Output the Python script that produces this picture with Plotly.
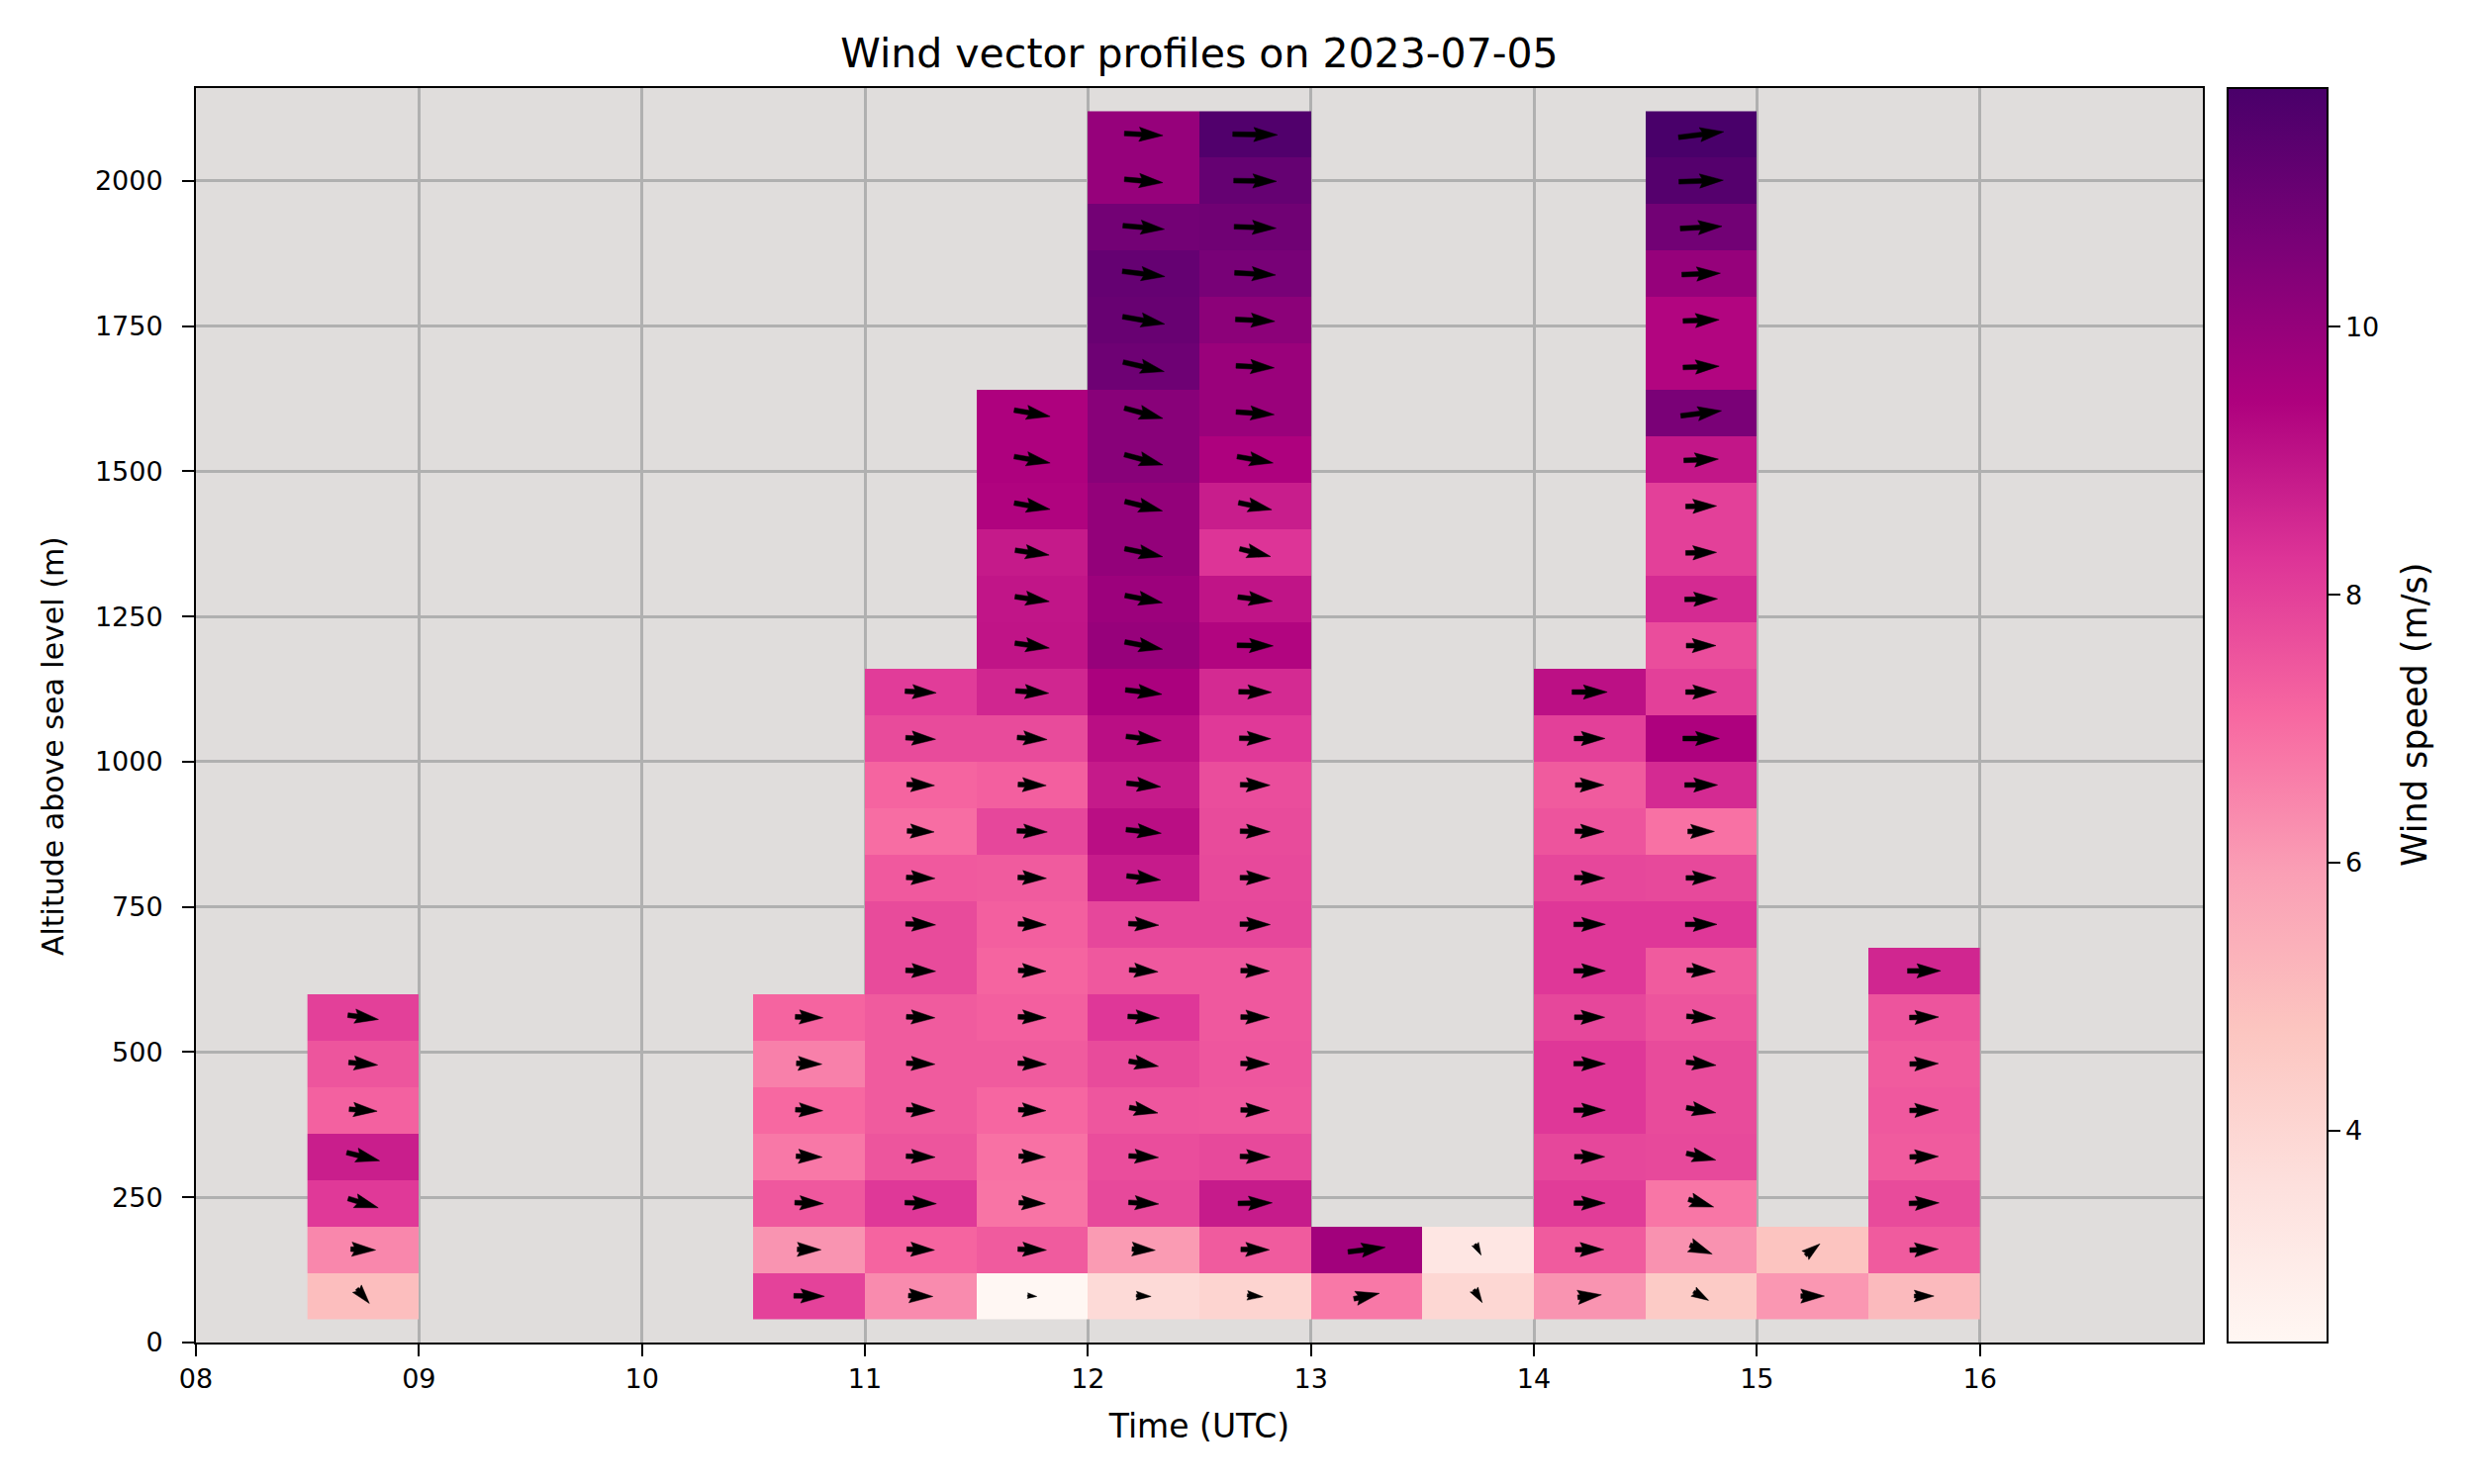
import math
import plotly.graph_objects as go

# ---------------- data ----------------
TIME_SLOTS = ["08:30", "09:00", "09:30", "10:00", "10:30", "11:00", "11:30",
              "12:00", "12:30", "13:00", "13:30", "14:00", "14:30", "15:00", "15:30"]
ALTITUDES = [80, 160, 240, 320, 400, 480, 560, 640, 720, 800, 880, 960, 1040,
             1120, 1200, 1280, 1360, 1440, 1520, 1600, 1680, 1760, 1840, 1920, 2000, 2080]

# wind speed (m/s) per altitude bin, from the lowest bin upward
SPEED_0830 = [4.98, 6.45, 8.15, 8.77, 7.26, 7.53, 8.0]
SPEED_1030 = [7.95, 6.17, 7.45, 6.77, 7.1, 6.6, 7.2]
SPEED_1100 = [6.35, 7.2, 8.17, 7.53, 7.4, 7.4, 7.4, 7.76, 7.76, 7.43, 7.0, 7.2, 7.76, 8.09]
SPEED_1130 = [2.42, 7.4, 6.85, 6.9, 7.15, 7.4, 7.3, 7.2, 7.3, 7.4, 7.85, 7.3, 7.76, 8.6,
              9.0, 8.97, 8.87, 9.4, 9.44, 9.44]
SPEED_1200 = [3.85, 6.02, 7.8, 7.7, 7.5, 7.76, 8.2, 7.45, 7.85, 8.85, 9.15, 8.87, 9.15, 9.5,
              9.95, 9.85, 10.05, 10.05, 10.3, 10.3, 10.9, 11.05, 11.1, 10.78, 9.98, 9.98]
SPEED_1230 = [4.1, 7.4, 8.85, 7.8, 7.45, 7.5, 7.45, 7.45, 7.85, 7.8, 7.76, 7.7, 8.15, 8.5,
              9.35, 9.0, 8.27, 8.8, 9.44, 9.9, 9.9, 10.2, 10.65, 10.85, 11.1, 11.6]
SPEED_1300 = [6.77, 9.7]
SPEED_1330 = [4.0, 3.27]
SPEED_1400 = [6.17, 7.4, 8.1, 7.85, 8.2, 8.2, 7.85, 8.2, 8.2, 7.85, 7.55, 7.4, 8.0, 9.1]
SPEED_1430 = [4.5, 6.2, 6.8, 7.8, 7.76, 7.76, 7.55, 7.4, 8.2, 7.8, 6.9, 8.5, 9.44, 8.0,
              7.7, 8.5, 8.0, 8.0, 8.95, 10.6, 9.35, 9.35, 9.98, 10.8, 11.5, 11.78]
SPEED_1500 = [6.1, 4.8]
SPEED_1530 = [5.1, 7.4, 7.76, 7.4, 7.45, 7.4, 7.55, 8.6]

# direction the wind vector points to (degrees, 0 = east, positive = northward)
ANGLE_0830 = [-50, -2, -17, -14, -4, -5, -8]
ANGLE_1030 = [-1, -1, -2, -2, -2, -2, -2]
ANGLE_1100 = [-2, -2, -2, -2, -2, -2, -2, -2, -2, -2, -2, -2, -3, -3]
ANGLE_1130 = [-5, -2, -2, -2, -2, -2, -2, -2, -2, -2, -2, -2, -4, -4, -8, -8, -8, -10, -10, -10]
ANGLE_1200 = [-3, -3, -3, -3, -11, -10, -3, -4, -3, -7, -6, -6, -7, -7, -11, -11, -12, -14,
              -15, -15, -13, -10, -7, -5, -5, -3]
ANGLE_1230 = [-5, -1, 1, -1, -1, -1, -1, -1, -1, -1, -1, -1, -1, -1, -1, -7, -14, -12, -10,
              -4, -3, -3, -3, -2, -1, -1]
ANGLE_1300 = [12, 7]
ANGLE_1330 = [-58, -62]
ANGLE_1400 = [6, 0, 0, 0, 0, 0, 0, 0, 0, -1, -1, 0, 0, 0]
ANGLE_1430 = [-30, -22, -17, -13, -10, -6, -4, -3, 0, 0, 0, 0, 0, 0, 0, 1, 1, 1, 2, 7, 2, 2,
              2, 3, 2, 7]
ANGLE_1500 = [0, 38]
ANGLE_1530 = [0, 2, 1, 1, 1, 1, 1, 0]

SPEEDS = {"08:30": SPEED_0830, "10:30": SPEED_1030, "11:00": SPEED_1100, "11:30": SPEED_1130,
          "12:00": SPEED_1200, "12:30": SPEED_1230, "13:00": SPEED_1300, "13:30": SPEED_1330,
          "14:00": SPEED_1400, "14:30": SPEED_1430, "15:00": SPEED_1500, "15:30": SPEED_1530}
ANGLES = {"08:30": ANGLE_0830, "10:30": ANGLE_1030, "11:00": ANGLE_1100, "11:30": ANGLE_1130,
          "12:00": ANGLE_1200, "12:30": ANGLE_1230, "13:00": ANGLE_1300, "13:30": ANGLE_1330,
          "14:00": ANGLE_1400, "14:30": ANGLE_1430, "15:00": ANGLE_1500, "15:30": ANGLE_1530}

X_TICKS = [8, 9, 10, 11, 12, 13, 14, 15, 16]
X_TICK_TEXT = ["08", "09", "10", "11", "12", "13", "14", "15", "16"]
Y_TICKS = [0, 250, 500, 750, 1000, 1250, 1500, 1750, 2000]
CBAR_TICKS = [4, 6, 8, 10]

TITLE = "Wind vector profiles on 2023-07-05"
X_LABEL = "Time (UTC)"
Y_LABEL = "Altitude above sea level (m)"
CBAR_LABEL = "Wind speed (m/s)"

# ---------------- layout geometry ----------------
W, H = 2500, 1500
ML, MR, MT, MB = 190, 282, 81, 151
X_RANGE = [8, 17]
Y_RANGE = [0, 2160]
PLOT_W, PLOT_H = W - ML - MR, H - MT - MB
PX_PER_HOUR = PLOT_W / (X_RANGE[1] - X_RANGE[0])
PX_PER_M = PLOT_H / (Y_RANGE[1] - Y_RANGE[0])
FONT = "DejaVu Sans"
TICK_SIZE = 27


def slot_center(label):
    h, m = label.split(":")
    return int(h) + int(m) / 60 + 0.25


x_centers = [slot_center(t) for t in TIME_SLOTS]
z = [[None] * len(TIME_SLOTS) for _ in ALTITUDES]
for j, t in enumerate(TIME_SLOTS):
    for i, s in enumerate(SPEEDS.get(t, [])):
        z[i][j] = s

# ---------------- arrows (matplotlib-quiver-like polygons) ----------------
PX_PER_MS = 3.9     # arrow length in pixels per m/s
SHAFT_W = 4.8       # shaft width in pixels
HEAD_W, HEAD_L, HEAD_AXL = 3.0, 5.0, 4.5


def arrow_polygon(length_px):
    lw = length_px / SHAFT_W
    ys = [0.5, 0.5, 0.5 * HEAD_W, 0, -0.5 * HEAD_W, -0.5, -0.5, 0.5]
    if lw >= HEAD_L:
        xs = [0, lw - HEAD_AXL, lw - HEAD_L, lw, lw - HEAD_L, lw - HEAD_AXL, 0, 0]
    else:
        s = lw / HEAD_L
        base = [0, HEAD_L - HEAD_AXL, 0, HEAD_L, 0, HEAD_L - HEAD_AXL, 0, 0]
        xs = [v * s for v in base]
        ys = [v * s for v in ys]
    tip = xs[3]
    xs = [v - tip / 2 for v in xs]
    return [v * SHAFT_W for v in xs], [v * SHAFT_W for v in ys]


ax_x, ax_y = [], []
for t in TIME_SLOTS:
    if t not in SPEEDS:
        continue
    xc = slot_center(t)
    for alt, spd, ang in zip(ALTITUDES, SPEEDS[t], ANGLES[t]):
        px, py = arrow_polygon(spd * PX_PER_MS)
        th = math.radians(ang)
        c, s_ = math.cos(th), math.sin(th)
        for a, b in zip(px, py):
            rx = a * c - b * s_
            ry = a * s_ + b * c
            ax_x.append(xc + rx / PX_PER_HOUR)
            ax_y.append(alt + ry / PX_PER_M)
        ax_x.append(None)
        ax_y.append(None)

fig = go.Figure()
fig.add_trace(go.Heatmap(
    x=x_centers, y=ALTITUDES, z=z,
    colorscale="RdPu", hoverongaps=False,
    colorbar=dict(
        thickness=101, thicknessmode="pixels", len=1, lenmode="fraction",
        x=1.0123, xanchor="left", xpad=0, y=0.5, yanchor="middle", ypad=0,
        outlinewidth=2, outlinecolor="black",
        tickvals=CBAR_TICKS, ticks="outside", ticklen=12, tickwidth=2, tickcolor="black",
        tickfont=dict(family=FONT, size=TICK_SIZE, color="black"),
    ),
))
fig.add_trace(go.Scatter(
    x=ax_x, y=ax_y, mode="lines", fill="toself", fillcolor="black",
    line=dict(color="black", width=0.5), hoverinfo="skip", showlegend=False,
))

axis_common = dict(
    showgrid=True, gridcolor="#b0b0b0", gridwidth=2.5, zeroline=False,
    showline=True, linecolor="black", linewidth=2, mirror=True,
    ticks="outside", ticklen=12, tickwidth=2, tickcolor="black",
    tickfont=dict(family=FONT, size=TICK_SIZE, color="black"),
    automargin=False,
)
fig.update_layout(
    width=W, height=H,
    margin=dict(l=ML, r=MR, t=MT, b=MB),
    paper_bgcolor="white", plot_bgcolor="#e0dddc",
    showlegend=False,
    title=dict(text=TITLE, x=0.5, xref="paper",
               xanchor="center", y=1 - 46 / H, yref="container", yanchor="middle",
               font=dict(family=FONT, size=41, color="black")),
    xaxis=dict(range=X_RANGE, tickvals=X_TICKS, ticktext=X_TICK_TEXT,
               title=dict(text=X_LABEL, font=dict(family=FONT, size=33, color="black"),
                          standoff=21),
               **axis_common),
    yaxis=dict(range=Y_RANGE, tickvals=Y_TICKS, ticklabelstandoff=14,
               **axis_common),
    annotations=[
        dict(text=Y_LABEL, xref="paper", yref="paper",
             x=(45 - ML) / PLOT_W, y=1 - (746 - MT) / PLOT_H,
             xanchor="center", yanchor="middle", textangle=-90, showarrow=False,
             font=dict(family=FONT, size=30, color="black")),
        dict(text=CBAR_LABEL, xref="paper", yref="paper",
             x=(2432 - ML) / PLOT_W, y=0.5,
             xanchor="center", yanchor="middle", textangle=-90, showarrow=False,
             font=dict(family=FONT, size=35, color="black")),
    ],
)

fig.write_html("out.html")
